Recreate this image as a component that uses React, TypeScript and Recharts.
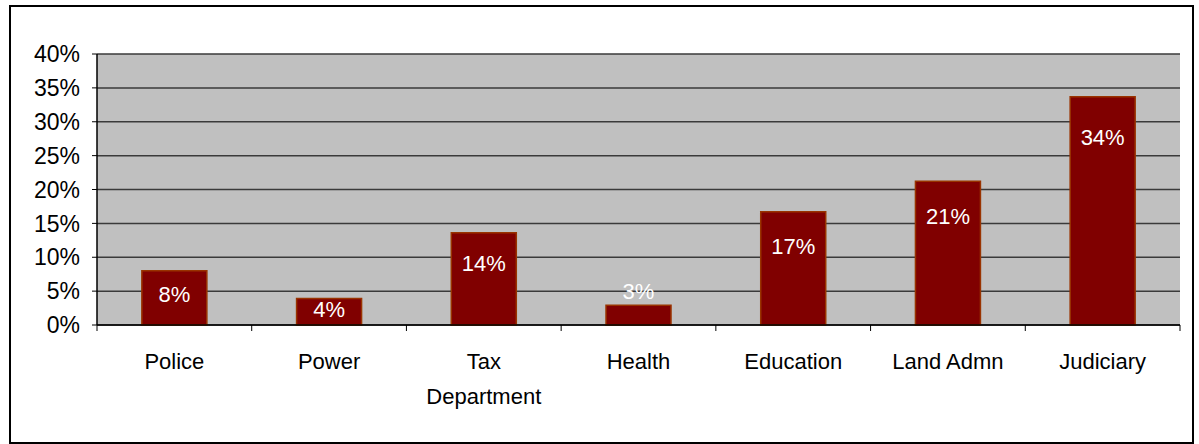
import React from 'react';
import { BarChart, Bar, XAxis, YAxis, CartesianGrid, LabelList } from 'recharts';

const departments = ['Police', 'Power', 'Tax Department', 'Health', 'Education', 'Land Admn', 'Judiciary'];
const shares = [8.0, 3.9, 13.6, 2.9, 16.7, 21.2, 33.7];
const yTicks = [0, 5, 10, 15, 20, 25, 30, 35, 40];

// label baseline offset from the bar top, as placed in the original
const labelDy = [31, 18, 38, -6, 42, 43, 48];

const data = departments.map((name, i) => ({ name, share: shares[i] }));

const FONT = '"Liberation Sans", Arial, sans-serif';

const CategoryTick = (props: any) => {
  const { x, y, payload, width, index } = props;
  const half = payload && typeof payload.offset === 'number' && payload.offset > 0
    ? payload.offset
    : (width || 1083) / departments.length / 2;
  const lines = payload.value === 'Tax Department' ? ['Tax', 'Department'] : [payload.value];
  return (
    <g>
      <line x1={x - half} x2={x - half} y1={y} y2={y + 6} stroke="#000" />
      {index === departments.length - 1 && (
        <line x1={x + half} x2={x + half} y1={y} y2={y + 6} stroke="#000" />
      )}
      <text x={x} y={y} textAnchor="middle" fill="#000" fontSize={22} fontFamily={FONT}>
        {lines.map((l: string, i: number) => (
          <tspan key={i} x={x} dy={i === 0 ? 44 : 35}>{l}</tspan>
        ))}
      </text>
    </g>
  );
};

const BarValue = (props: any) => {
  const { x, y, width, index, value } = props;
  return (
    <text x={x + width / 2} y={y + labelDy[index]} textAnchor="middle" fill="#fff" fontSize={22} fontFamily={FONT}>
      {Math.round(value)}%
    </text>
  );
};

export default function App() {
  return (
    <div style={{ position: 'absolute', left: 0, top: 0, width: 1199, height: 444, background: '#fff' }}>
      <div style={{ position: 'absolute', left: 9, top: 5, width: 1181, height: 435, border: '2px solid #000' }} />
      <div style={{ position: 'absolute', left: 0, top: 0 }}>
        <BarChart width={1199} height={444} data={data} margin={{ top: 54, right: 19, bottom: 59, left: 0 }} barCategoryGap="29%">
          <CartesianGrid vertical={false} fill="#C0C0C0" stroke="#3a3a3a" strokeWidth={1.5} yAxisId="left" />
          <XAxis dataKey="name" height={60} tick={<CategoryTick />} tickLine={false} tickSize={0} tickMargin={0}
            axisLine={{ stroke: '#000', strokeWidth: 1.5 }} interval={0} />
          <XAxis xAxisId="top" orientation="top" height={0} tick={false} tickLine={false}
            axisLine={{ stroke: '#888', strokeWidth: 1.5 }} />
          <YAxis yAxisId="left" width={97} domain={[0, 40]} ticks={yTicks} tickFormatter={(v) => `${v}%`}
            tick={{ fill: '#000', fontSize: 23, fontFamily: FONT }} tickSize={5} tickMargin={12}
            axisLine={{ stroke: '#000', strokeWidth: 1.5 }} tickLine={{ stroke: '#000' }} />
          <YAxis yAxisId="right" orientation="right" width={0} domain={[0, 40]} tick={false} tickLine={false}
            axisLine={{ stroke: '#888', strokeWidth: 1.5 }} />
          <Bar dataKey="share" yAxisId="left" fill="#800000" stroke="#993300" strokeWidth={1.5} isAnimationActive={false}>
            <LabelList dataKey="share" content={<BarValue />} />
          </Bar>
        </BarChart>
      </div>
    </div>
  );
}
